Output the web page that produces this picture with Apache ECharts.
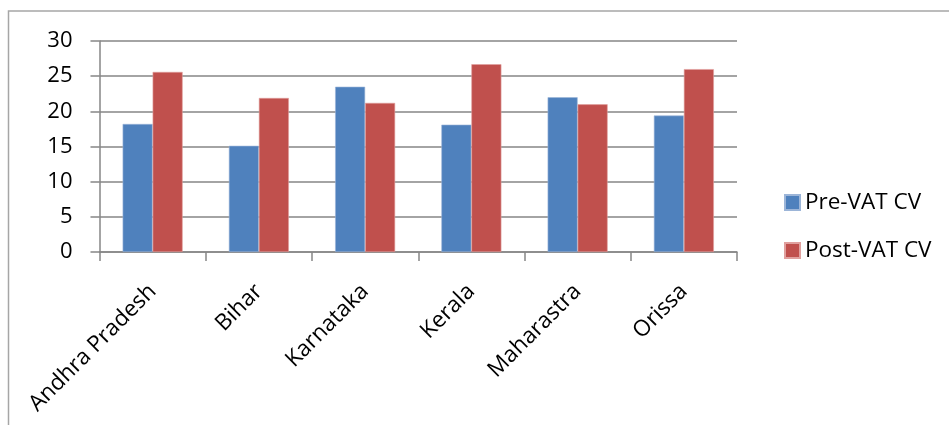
<!DOCTYPE html>
<html>
<head>
<meta charset="utf-8">
<script src="https://cdn.jsdelivr.net/npm/echarts@6/dist/echarts.min.js"></script>
<style>
html,body{margin:0;padding:0;background:#fff;}
#chart{width:949px;height:425px;}
</style>
</head>
<body>
<div id="chart"></div>
<script>
const categories = ['Andhra Pradesh', 'Bihar', 'Karnataka', 'Kerala', 'Maharastra', 'Orissa'];
const preVat = [18.2, 15.1, 23.5, 18.1, 22.0, 19.4];
const postVat = [25.6, 21.9, 21.2, 26.7, 21.0, 26.0];
const seriesNames = ['Pre-VAT CV', 'Post-VAT CV'];
const yTicks = { min: 0, max: 30, interval: 5 };

const FONT = 'Open Sans';
const chart = echarts.init(document.getElementById('chart'), null, { renderer: 'canvas' });
chart.setOption({
  animation: false,
  backgroundColor: '#fff',
  textStyle: { fontFamily: FONT },
  graphic: [{
    type: 'rect',
    shape: { x: 8.5, y: 11, width: 1000, height: 500 },
    style: { fill: 'none', stroke: '#a6a6a6', lineWidth: 1.5 },
    silent: true
  }],
  grid: { left: 99.5, right: 212, top: 41, bottom: 173, containLabel: false },
  legend: {
    orient: 'vertical',
    left: 779,
    top: 186,
    itemWidth: 15,
    itemHeight: 15,
    itemGap: 25,
    itemTextGap: 7,
    icon: 'rect',
    textStyle: { fontFamily: FONT, fontSize: 22.5, lineHeight: 23, color: '#000' },
    data: seriesNames
  },
  xAxis: {
    type: 'category',
    data: categories,
    axisLine: { lineStyle: { color: '#868686', width: 1.5 } },
    axisTick: { show: true, length: 9, lineStyle: { color: '#868686', width: 1.5 } },
    axisLabel: { rotate: 45, margin: 36, fontSize: 22.5, color: '#000', fontFamily: FONT, interval: 0 }
  },
  yAxis: {
    type: 'value',
    min: yTicks.min, max: yTicks.max, interval: yTicks.interval,
    axisLine: { show: true, lineStyle: { color: '#868686', width: 1.5 } },
    axisTick: { show: true, length: 9, lineStyle: { color: '#868686', width: 1.5 } },
    axisLabel: { margin: 27, fontSize: 22, color: '#000', fontFamily: FONT },
    splitLine: { show: true, lineStyle: { color: '#868686', width: 1.5 } }
  },
  series: [
    { name: seriesNames[0], type: 'bar', data: preVat, barWidth: 30, barGap: '0%',
      itemStyle: { color: '#4F81BD', borderColor: '#9cb5d8', borderWidth: 0.6 } },
    { name: seriesNames[1], type: 'bar', data: postVat, barWidth: 30, barGap: '0%',
      itemStyle: { color: '#C0504D', borderColor: '#e0a09e', borderWidth: 0.6 } }
  ]
});
</script>
</body>
</html>
